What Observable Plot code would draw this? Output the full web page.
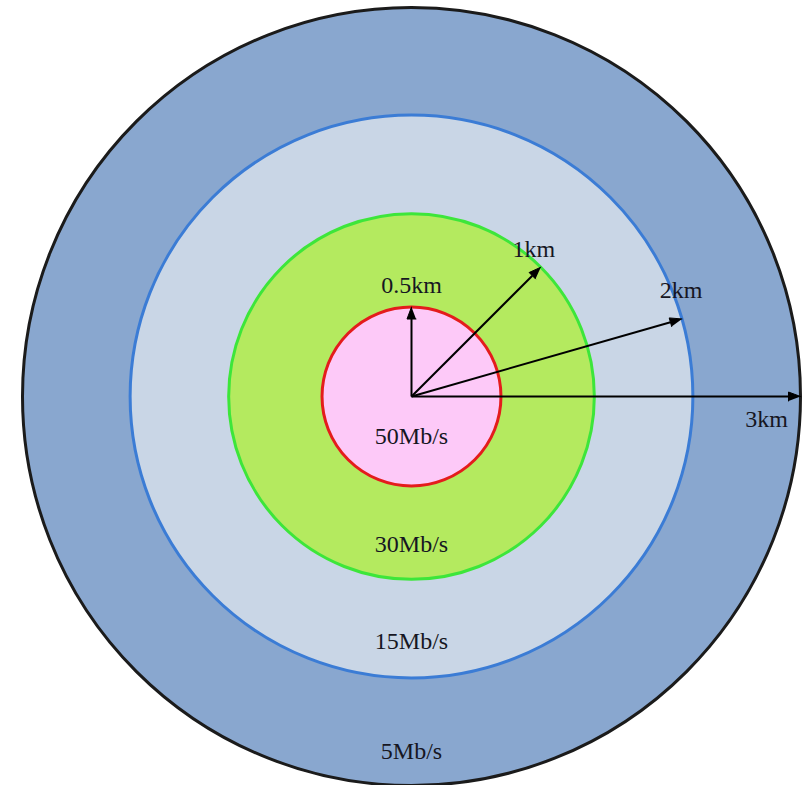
<!DOCTYPE html>
<html>
<head>
<meta charset="utf-8">
<script src="https://cdn.jsdelivr.net/npm/d3@7"></script>
<script src="https://cdn.jsdelivr.net/npm/@observablehq/plot@0.6"></script>
<style>
  html, body { margin: 0; padding: 0; background: #ffffff; }
  #chart svg { display: block; }
</style>
</head>
<body>
<div id="chart"></div>
<script>
// ---- data ----
const rangeLabels = ["0.5km", "1km", "2km", "3km"];
const speedLabels = ["50Mb/s", "30Mb/s", "15Mb/s", "5Mb/s"];
const ringRadius = [0.69, 1.41, 2.17, 3.0];   // schematic radius of each coverage ring
const arrowAngle = [90, 45, 16, 0];            // direction of each range arrow (degrees)

// ---- styling / layout (not data) ----
const ringFill   = ["#fdc9f8", "#b4ea5f", "#c9d6e6", "#89a7cf"];
const ringStroke = ["#e41c1c", "#3de63a", "#3b7cd5", "#1b1b1b"];
const W = 804, H = 785, CX = 411, CY = 396;
const K = 389 / 3; // px per schematic unit
const rangeLabelOffset = [[0, -14], [-7, -10], [-1, -21], [-34, 30]]; // px from arrow tip
const speedLabelDepth = [0.53, 0.71, 0.71, 0.75]; // fraction of band below centre (baseline)

const rings = ringRadius.map((r, i) => ({
  radius: r, fill: ringFill[i], stroke: ringStroke[i], km: rangeLabels[i], speed: speedLabels[i]
})).reverse();

const headLen = 12 / K, headHalf = 4.5 / K;
const arrows = ringRadius.map((r, i) => {
  const a = arrowAngle[i] * Math.PI / 180;
  const ux = Math.cos(a), uy = Math.sin(a);
  const tx = r * ux, ty = r * uy;
  const bx = tx - headLen * ux, by = ty - headLen * uy;
  return {label: rangeLabels[i], tx, ty, bx, by, ux, uy, i};
});
const heads = arrows.flatMap(d => [
  {id: d.i, x: d.tx, y: d.ty},
  {id: d.i, x: d.bx - headHalf * d.uy, y: d.by + headHalf * d.ux},
  {id: d.i, x: d.bx + headHalf * d.uy, y: d.by - headHalf * d.ux}
]);
const rangeText = arrows.map(d => ({
  text: d.label,
  x: d.tx + rangeLabelOffset[d.i][0] / K,
  y: d.ty - rangeLabelOffset[d.i][1] / K
}));
const speedText = ringRadius.map((r, i) => {
  const inner = i === 0 ? 0 : ringRadius[i - 1];
  return {text: speedLabels[i], x: 0, y: -(inner + speedLabelDepth[i] * (r - inner))};
});

const textStyle = {
  fontSize: 24, fontFamily: "'Liberation Serif', 'Times New Roman', serif",
  fill: "#161622", textAnchor: "middle", lineAnchor: "bottom"
};

const chart = Plot.plot({
  width: W, height: H, margin: 0,
  x: {domain: [-CX / K, (W - CX) / K], axis: null},
  y: {domain: [-(H - CY) / K, CY / K], axis: null},
  r: {type: "linear", domain: [0, 3], range: [0, 3 * K]},
  color: {type: "identity"},
  style: {background: "#ffffff", overflow: "visible"},
  marks: [
    Plot.dot(rings, {x: 0, y: 0, r: "radius", fill: "fill", stroke: "stroke", strokeWidth: 3, sort: null}),
    Plot.link(arrows, {x1: 0, y1: 0, x2: "bx", y2: "by", stroke: "#000", strokeWidth: 2}),
    Plot.line(heads, {x: "x", y: "y", z: "id", fill: "#000", stroke: "#000", strokeWidth: 1, strokeLinejoin: "miter"}),
    Plot.text(rangeText, {x: "x", y: "y", text: "text", ...textStyle}),
    Plot.text(speedText, {x: "x", y: "y", text: "text", ...textStyle})
  ]
});
document.getElementById("chart").append(chart);
</script>
</body>
</html>
